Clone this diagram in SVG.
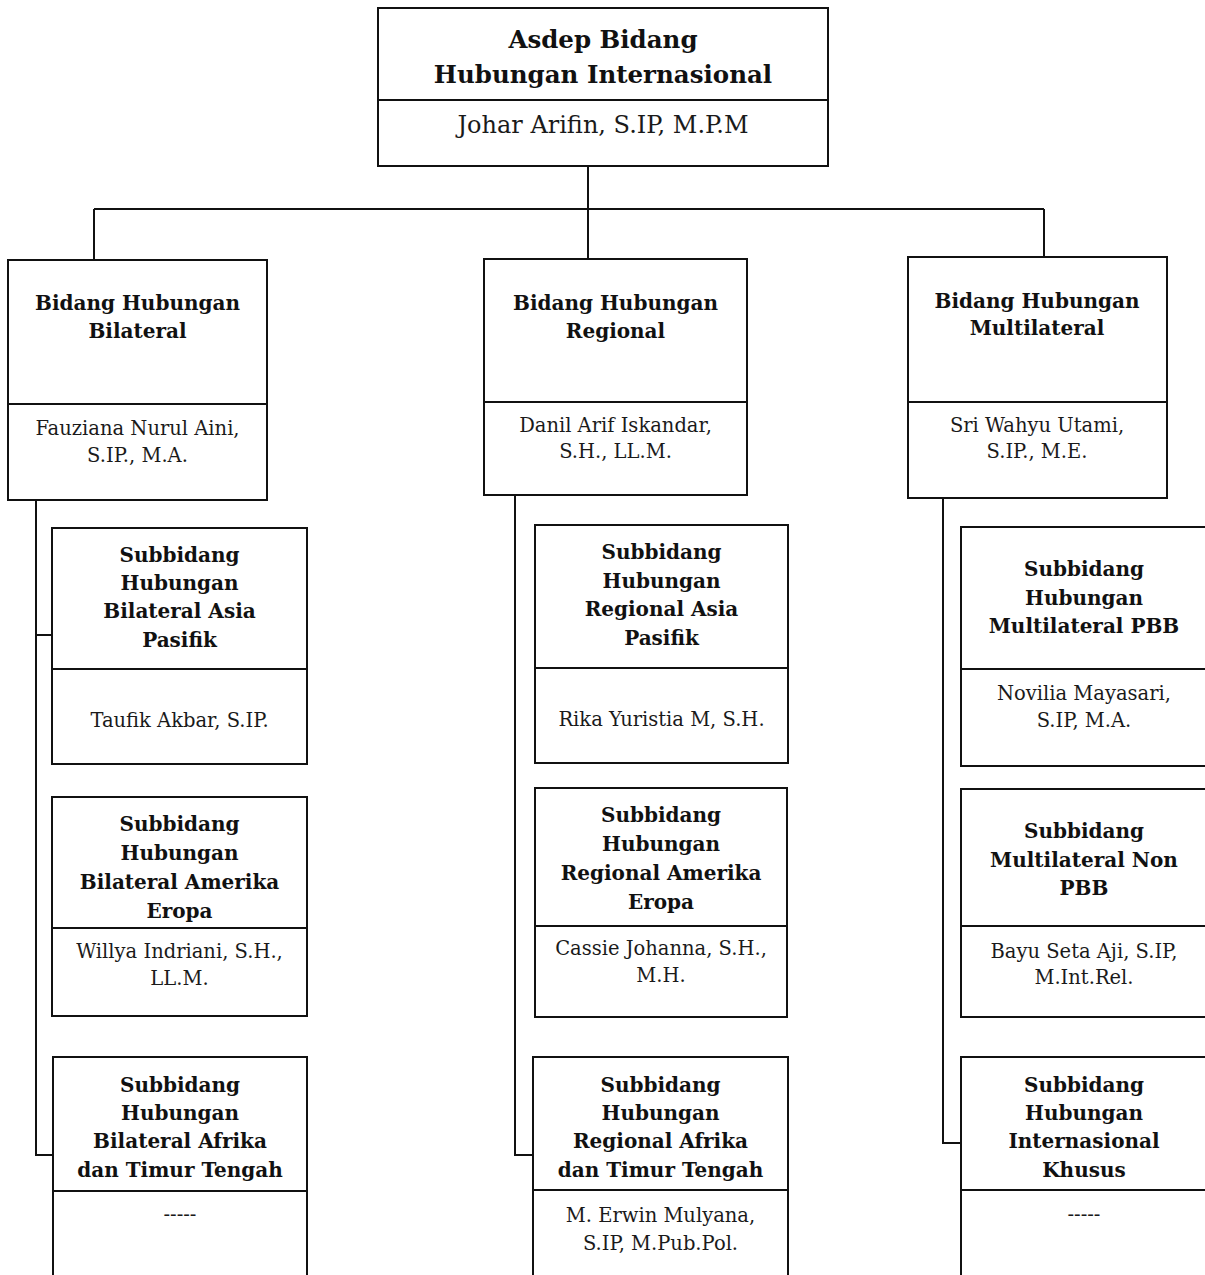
<svg xmlns="http://www.w3.org/2000/svg" width="1205" height="1275" viewBox="0 0 1205 1275">
<style>
.box{fill:none;stroke:#111;stroke-width:2}
.ln{fill:none;stroke:#111;stroke-width:2}
.t{font-family:"DejaVu Serif","Liberation Serif",serif;font-weight:bold;fill:#111;text-anchor:middle}
.n{font-family:"DejaVu Serif","Liberation Serif",serif;fill:#1a1a1a;text-anchor:middle}
.h1{font-size:24.5px}
.h2{font-size:20px}
.h3{font-size:20px}
.nm{font-size:19.5px}
.nm1{font-size:24px}
</style>
<rect width="1205" height="1275" fill="#fff"/>
<g id="connectors">
<path class="ln" d="M588 166V259M94 209H1044M94 209V260M1044 209V257"/>
<path class="ln" d="M36 500V1155H53M36 635H52"/>
<path class="ln" d="M515 495V1155H533"/>
<path class="ln" d="M943 498V1143H961"/>
</g>
<g id="asdep">
<rect class="box" x="378" y="8" width="450" height="158"/>
<line class="ln" x1="378" y1="100" x2="828" y2="100"/>
<text class="t h1" x="603" y="48">Asdep Bidang</text>
<text class="t h1" x="603" y="83">Hubungan Internasional</text>
<text class="n nm1" x="603" y="133">Johar Arifin, S.IP, M.P.M</text>
</g>
<g id="bidang-bilateral">
<rect class="box" x="8" y="260" width="259" height="240"/>
<line class="ln" x1="8" y1="404" x2="267" y2="404"/>
<text class="t h2" x="137.5" y="310">Bidang Hubungan</text>
<text class="t h2" x="137.5" y="338">Bilateral</text>
<text class="n nm" x="137.5" y="435">Fauziana Nurul Aini,</text>
<text class="n nm" x="137.5" y="462">S.IP., M.A.</text>
</g>
<g id="bidang-regional">
<rect class="box" x="484" y="259" width="263" height="236"/>
<line class="ln" x1="484" y1="402" x2="747" y2="402"/>
<text class="t h2" x="615.5" y="310">Bidang Hubungan</text>
<text class="t h2" x="615.5" y="338">Regional</text>
<text class="n nm" x="615.5" y="432">Danil Arif Iskandar,</text>
<text class="n nm" x="615.5" y="458">S.H., LL.M.</text>
</g>
<g id="bidang-multilateral">
<rect class="box" x="908" y="257" width="259" height="241"/>
<line class="ln" x1="908" y1="402" x2="1167" y2="402"/>
<text class="t h2" x="1037" y="308">Bidang Hubungan</text>
<text class="t h2" x="1037" y="335">Multilateral</text>
<text class="n nm" x="1037" y="432">Sri Wahyu Utami,</text>
<text class="n nm" x="1037" y="458">S.IP., M.E.</text>
</g>
<g id="sub-bilateral-asia">
<rect class="box" x="52" y="528" width="255" height="236"/>
<line class="ln" x1="52" y1="669" x2="307" y2="669"/>
<text class="t h3" x="179.5" y="562">Subbidang</text>
<text class="t h3" x="179.5" y="590">Hubungan</text>
<text class="t h3" x="179.5" y="618">Bilateral Asia</text>
<text class="t h3" x="179.5" y="647">Pasifik</text>
<text class="n nm" x="179.5" y="727">Taufik Akbar, S.IP.</text>
</g>
<g id="sub-bilateral-amerika">
<rect class="box" x="52" y="797" width="255" height="219"/>
<line class="ln" x1="52" y1="928" x2="307" y2="928"/>
<text class="t h3" x="179.5" y="831">Subbidang</text>
<text class="t h3" x="179.5" y="860">Hubungan</text>
<text class="t h3" x="179.5" y="889">Bilateral Amerika</text>
<text class="t h3" x="179.5" y="918">Eropa</text>
<text class="n nm" x="179.5" y="958">Willya Indriani, S.H.,</text>
<text class="n nm" x="179.5" y="985">LL.M.</text>
</g>
<g id="sub-bilateral-afrika">
<rect class="box" x="53" y="1057" width="254" height="240"/>
<line class="ln" x1="53" y1="1191" x2="307" y2="1191"/>
<text class="t h3" x="180" y="1092">Subbidang</text>
<text class="t h3" x="180" y="1120">Hubungan</text>
<text class="t h3" x="180" y="1148">Bilateral Afrika</text>
<text class="t h3" x="180" y="1177">dan Timur Tengah</text>
<text class="n nm" x="180" y="1221">-----</text>
</g>
<g id="sub-regional-asia">
<rect class="box" x="535" y="525" width="253" height="238"/>
<line class="ln" x1="535" y1="668" x2="788" y2="668"/>
<text class="t h3" x="661.5" y="559">Subbidang</text>
<text class="t h3" x="661.5" y="588">Hubungan</text>
<text class="t h3" x="661.5" y="616">Regional Asia</text>
<text class="t h3" x="661.5" y="645">Pasifik</text>
<text class="n nm" x="661.5" y="726">Rika Yuristia M, S.H.</text>
</g>
<g id="sub-regional-amerika">
<rect class="box" x="535" y="788" width="252" height="229"/>
<line class="ln" x1="535" y1="926" x2="787" y2="926"/>
<text class="t h3" x="661" y="822">Subbidang</text>
<text class="t h3" x="661" y="851">Hubungan</text>
<text class="t h3" x="661" y="880">Regional Amerika</text>
<text class="t h3" x="661" y="909">Eropa</text>
<text class="n nm" x="661" y="955">Cassie Johanna, S.H.,</text>
<text class="n nm" x="661" y="982">M.H.</text>
</g>
<g id="sub-regional-afrika">
<rect class="box" x="533" y="1057" width="255" height="240"/>
<line class="ln" x1="533" y1="1190" x2="788" y2="1190"/>
<text class="t h3" x="660.5" y="1092">Subbidang</text>
<text class="t h3" x="660.5" y="1120">Hubungan</text>
<text class="t h3" x="660.5" y="1148">Regional Afrika</text>
<text class="t h3" x="660.5" y="1177">dan Timur Tengah</text>
<text class="n nm" x="660.5" y="1222">M. Erwin Mulyana,</text>
<text class="n nm" x="660.5" y="1250">S.IP, M.Pub.Pol.</text>
</g>
<g id="sub-multilateral-pbb">
<rect class="box" x="961" y="527" width="260" height="239"/>
<line class="ln" x1="961" y1="669" x2="1221" y2="669"/>
<text class="t h3" x="1084" y="576">Subbidang</text>
<text class="t h3" x="1084" y="605">Hubungan</text>
<text class="t h3" x="1084" y="633">Multilateral PBB</text>
<text class="n nm" x="1084" y="700">Novilia Mayasari,</text>
<text class="n nm" x="1084" y="727">S.IP, M.A.</text>
</g>
<g id="sub-multilateral-non-pbb">
<rect class="box" x="961" y="789" width="260" height="228"/>
<line class="ln" x1="961" y1="926" x2="1221" y2="926"/>
<text class="t h3" x="1084" y="838">Subbidang</text>
<text class="t h3" x="1084" y="867">Multilateral Non</text>
<text class="t h3" x="1084" y="895">PBB</text>
<text class="n nm" x="1084" y="958">Bayu Seta Aji, S.IP,</text>
<text class="n nm" x="1084" y="984">M.Int.Rel.</text>
</g>
<g id="sub-internasional-khusus">
<rect class="box" x="961" y="1057" width="260" height="240"/>
<line class="ln" x1="961" y1="1190" x2="1221" y2="1190"/>
<text class="t h3" x="1084" y="1092">Subbidang</text>
<text class="t h3" x="1084" y="1120">Hubungan</text>
<text class="t h3" x="1084" y="1148">Internasional</text>
<text class="t h3" x="1084" y="1177">Khusus</text>
<text class="n nm" x="1084" y="1221">-----</text>
</g>
</svg>
